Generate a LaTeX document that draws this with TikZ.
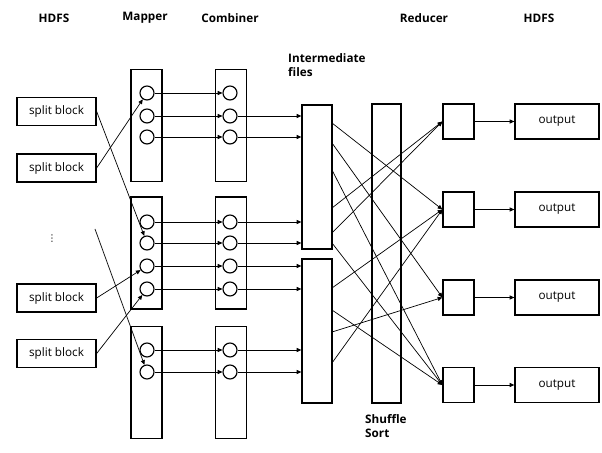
\documentclass[tikz,border=0pt]{standalone}
\usepackage{fontspec}
\setmainfont{Open Sans}
\newfontfamily\symfont{DejaVu Sans}
\usetikzlibrary{arrows.meta}

\tikzset{
  title/.style={font=\bfseries},
  box/.style={draw, line width=1.1pt, inner sep=0pt},
  blk/.style={box, minimum width=2.37cm, minimum height=0.84cm},
  tall/.style={box, minimum width=0.93cm, minimum height=3.36cm},
  circ/.style={circle, draw, line width=1pt, minimum size=0.42cm, inner sep=0pt},
  red/.style={box, minimum width=0.93cm, minimum height=1.05cm},
  outbox/.style={box, minimum width=2.52cm, minimum height=1.05cm},
  link/.style={line width=0.6pt, -{Triangle[length=4pt,width=3.5pt]}}
}

\begin{document}
\begin{tikzpicture}[x=0.03cm,y=0.03cm]
\useasboundingbox (0,0) rectangle (602,-453);
% column titles
\node[title] (t-in) at (54,-18) {HDFS};
\node[title] (t-map) at (145,-18) {Mapper};
\node[title] (t-comb) at (230,-18) {Combiner};
\node[title] (t-red) at (424,-18) {Reducer};
\node[title] (t-out) at (539,-18) {HDFS};
\node[title, align=left, anchor=north west, inner sep=0pt] (t-if) at (288,-53) {Intermediate\\files};
\node[title, align=left, anchor=north west, inner sep=0pt] (t-sh) at (365,-414) {Shuffle\\Sort};
% input splits
\node[blk] (sb1) at (56.5,-111.5) {split block};
\node[blk] (sb2) at (56.5,-168) {split block};
\node[blk] (sb3) at (56.5,-298) {split block};
\node[blk] (sb4) at (56.5,-353.5) {split block};
\node[font=\symfont\footnotesize] (dots) at (52,-239) {⋮};
\coordinate (loose) at (95,-229);
% mapper and combiner columns
\foreach \k/\y in {1/125.5,2/253,3/382.5}{
  \node[tall] (m\k) at (146.5,-\y) {};
  \node[tall] (c\k) at (231,-\y) {};
}
\foreach \k/\i/\y in {1/1/93,1/2/116,1/3/137,2/1/222,2/2/243,2/3/266,2/4/289,3/1/350,3/2/372}{
  \node[circ] (m\k\i) at (147,-\y) {};
  \node[circ] (c\k\i) at (230,-\y) {};
  \draw[link] (m\k\i) -- (c\k\i);
}
% intermediate files, shuffle, reducers, output
\node[box, minimum width=0.9cm, minimum height=4.32cm] (if1) at (317,-177) {};
\node[box, minimum width=0.9cm, minimum height=4.32cm] (if2) at (317,-331) {};
\node[box, minimum width=0.87cm, minimum height=8.97cm] (shuf) at (386.5,-253.5) {};
\foreach \k/\y in {1/121.5,2/209.5,3/297.5,4/385}{
  \node[red] (r\k) at (458.5,-\y) {};
  \node[outbox] (o\k) at (557,-\y) {output};
  \draw[link] (r\k) -- (o\k);
}
% splits into mappers
\draw[link] (sb1.east) -- (m22);
\draw[link] (sb2.east) -- (m11);
\draw[link] (sb3.east) -- (m23);
\draw[link] (sb4.east) -- (m24);
\draw[link] (loose) -- (m32);
% combiners into intermediate files
\foreach \n/\f in {12/1,13/1,21/1,22/1,23/2,24/2,31/2,32/2}
  \draw[link] (c\n) -- (c\n -| if\f.west);
% shuffle lines
\foreach \s/\y/\r in {1/123/2,2/143/3,3/170/4,4/208/1,5/233/1,6/243/4,7/288/2,8/310/4,9/332/3,10/363/2}{
  \coordinate (p\s) at (332,-\y);
  \draw[link] (p\s) -- (r\r.west);
}
\end{tikzpicture}
\end{document}
